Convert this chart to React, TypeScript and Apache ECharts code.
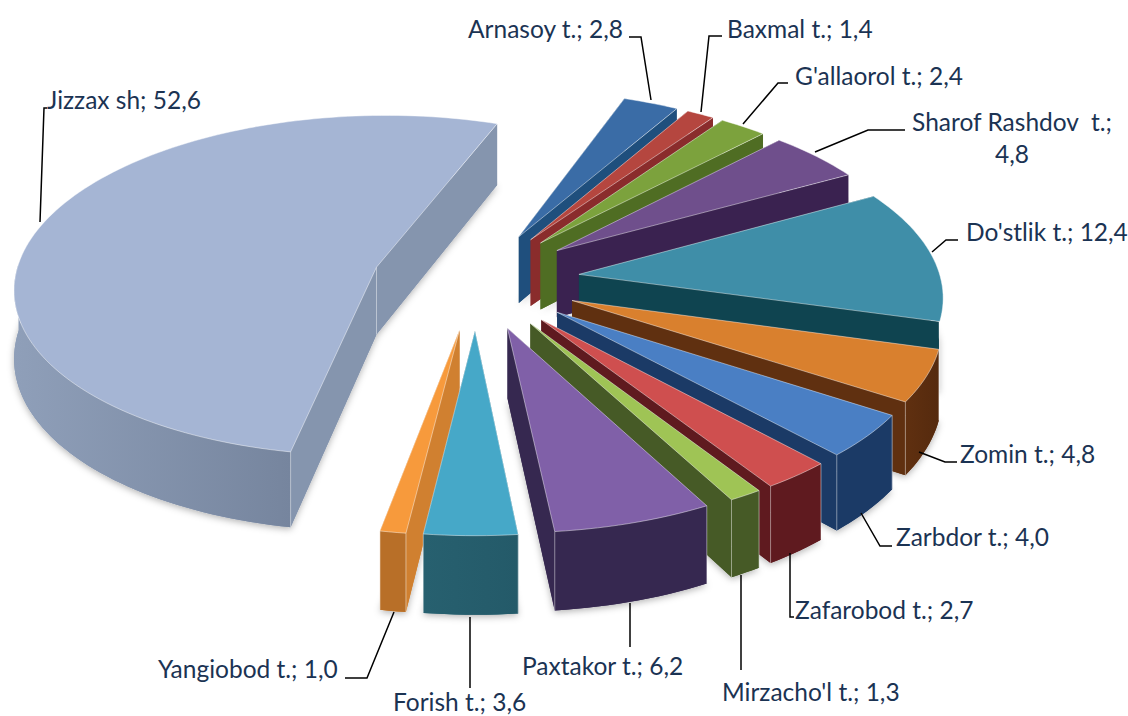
import React, { useEffect, useRef } from "react";
import * as echarts from "echarts";

const names = ["Arnasoy t.", "Baxmal t.", "G'allaorol t.", "Sharof Rashdov  t.", "Do'stlik t.", "Zomin t.", "Zarbdor t.", "Zafarobod t.", "Mirzacho'l t.", "Paxtakor t.", "Forish t.", "Yangiobod t.", "Jizzax sh"];
const values = [2.8, 1.4, 2.4, 4.8, 12.4, 4.8, 4.0, 2.7, 1.3, 6.2, 3.6, 1.0, 52.6];
const topColors = ["#3a6ca6", "#b5463f", "#7ca23d", "#6f4f8c", "#3f8ea8", "#d9802e", "#4a7fc4", "#cf4f4f", "#9fc455", "#8060a8", "#46a8c8", "#f79a3c", "#a5b5d4"];
const wallColors = ["#1f4f7d", "#8a2c2c", "#4f6d23", "#3a2250", "#0f4450", "#603010", "#1b3a66", "#5f1a1f", "#465a26", "#362850", "#27606f", "#d08030", "#8595ae"];
const rimColors = ["#1f4f7d", "#8a2c2c", "#4f6d23", "#3a2250", "#0f4450", "#603010", "#1b3a66", "#5f1a1f", "#465a26", "#362850", "#27606f", "#b86f28", "#8f9fb9"];
const rimDark = ["#1f4f7d", "#8a2c2c", "#4f6d23", "#3a2250", "#0f4450", "#552a0e", "#1b3a66", "#5f1a1f", "#465a26", "#362850", "#245a69", "#b86f28", "#76859e"];

// label layout: text anchor, leader polyline
const labelX = [468, 727, 795, 1012, 966, 960, 896, 795, 722, 522, 393, 158, 47];
const labelY = [28, 28, 75, 137, 231, 453, 536, 609, 691, 665, 701, 668, 99];
const labelAlign = ["left", "left", "left", "center", "left", "left", "left", "left", "left", "left", "left", "left", "left"];
const leaders: number[][][] = [
  [[629, 37], [641, 37], [651, 100]],
  [[722, 36], [709, 36], [701, 112]],
  [[788, 83], [778, 83], [743, 124]],
  [[905, 130], [868, 130], [815, 152]],
  [[958, 240], [946, 240], [932, 252]],
  [[957, 462], [945, 462], [919, 452]],
  [[892, 546], [880, 546], [861, 513]],
  [[790, 553], [790, 617], [794, 617]],
  [[741, 575], [741, 670]],
  [[630, 603], [630, 647]],
  [[470, 617], [470, 688]],
  [[394, 612], [367, 678], [345, 678]],
  [[40, 222], [44, 108], [47, 108]],
];

const START_ANGLE = 20;
const CX = 476, CY = 280, R = 362, EXPLODE = 104, TILT = 0.472, PERSP = 0.0003, DEPTH = 68;
const total = values.reduce((a, b) => a + b, 0);

const starts: number[] = [];
values.reduce((acc, v, i) => { starts[i] = acc; return acc + (v / total) * 360; }, START_ANGLE);
const ends = values.map((v, i) => starts[i] + (v / total) * 360);
const rad = (d: number) => (d * Math.PI) / 180;

const drawOrder = values.map((_, i) => i).sort((a, b) => Math.cos(rad((starts[b] + ends[b]) / 2)) - Math.cos(rad((starts[a] + ends[a]) / 2)));

function project(X: number, Y: number, z: number): number[] {
  const s = 1 / (1 + PERSP * Y);
  return [CX + X * s, CY - Y * TILT * s + z * s];
}

function renderItem(_params: any, api: any) {
  const a0 = api.value(0), a1 = api.value(1), idx = api.value(2);
  const mid = rad((a0 + a1) / 2);
  const ox = EXPLODE * Math.sin(mid), oy = EXPLODE * Math.cos(mid);
  const rimAt = (deg: number, z: number) => project(ox + R * Math.sin(rad(deg)), oy + R * Math.cos(rad(deg)), z);
  const steps = Math.max(2, Math.ceil((a1 - a0) / 1.5));
  const angleAt = (k: number) => a0 + ((a1 - a0) * k) / steps;
  const arc = (z: number) => {
    const pts: number[][] = [];
    for (let k = 0; k <= steps; k++) pts.push(rimAt(angleAt(k), z));
    return pts;
  };

  // the slice straddling the rightmost point must not poke past its clockwise neighbour
  let clampX = Infinity;
  if (a0 < 90 && a1 > 90 && idx + 1 < values.length) {
    const nextMid = rad((starts[idx + 1] + ends[idx + 1]) / 2);
    const nx = EXPLODE * Math.sin(nextMid), ny = EXPLODE * Math.cos(nextMid);
    clampX = project(nx + R * Math.sin(rad(starts[idx + 1])), ny + R * Math.cos(rad(starts[idx + 1])), 0)[0];
  }
  const clamp = (p: number[]) => [Math.min(p[0], clampX), p[1]];

  const apexTop = project(ox, oy, 0), apexBot = project(ox, oy, DEPTH);
  const topArc = arc(0), botArc = arc(DEPTH);
  const light = "rgba(255,255,255,0.45)";
  const children: any[] = [];

  children.push({
    type: "polygon",
    shape: { points: [apexBot, ...botArc].map(clamp) },
    style: { fill: wallColors[idx], shadowBlur: 7, shadowColor: "rgba(0,0,0,0.3)", shadowOffsetY: 2 },
  });

  const wallStart = [apexTop, topArc[0], botArc[0], apexBot].map(clamp);
  const wallEnd = [apexTop, topArc[steps], botArc[steps], apexBot].map(clamp);
  children.push({ type: "polygon", shape: { points: wallStart }, style: { fill: wallColors[idx] } });
  children.push({ type: "polygon", shape: { points: wallEnd }, style: { fill: wallColors[idx] } });
  if (a1 - a0 > 180) {
    children.push({ type: "line", shape: { x1: apexTop[0], y1: apexTop[1], x2: apexBot[0], y2: apexBot[1] }, style: { stroke: light, lineWidth: 1 } });
  }

  // outer wall: only the part of the rim that faces the viewer
  const frontTop: number[][] = [], frontBot: number[][] = [];
  for (let k = 0; k <= steps; k++) {
    const nd = ((angleAt(k) % 360) + 360) % 360;
    if (nd >= 88 && nd <= 272) { frontTop.push(topArc[k]); frontBot.push(botArc[k]); }
  }
  if (frontTop.length > 1) {
    const rimFill = new echarts.graphic.LinearGradient(0, 0, 1, 0, [
      { offset: 0, color: rimColors[idx] },
      { offset: 1, color: rimDark[idx] },
    ]);
    children.push({ type: "polygon", shape: { points: [...frontTop, ...frontBot.slice().reverse()].map(clamp) }, style: { fill: rimFill } });
  }

  [[a0, 0], [a1, steps]].forEach(([deg, k]) => {
    const nd = ((deg % 360) + 360) % 360;
    if (nd > 100 && nd < 262) {
      children.push({ type: "line", shape: { x1: topArc[k][0], y1: topArc[k][1], x2: botArc[k][0], y2: botArc[k][1] }, style: { stroke: light, lineWidth: 1 } });
    }
  });
  children.push({ type: "polygon", shape: { points: [apexTop, ...topArc] }, style: { fill: topColors[idx], stroke: light, lineWidth: 1 } });
  return { type: "group", children };
}

const labelText = (i: number) => {
  const v = values[i].toFixed(1).replace(".", ",");
  return i === 3 ? `${names[i]};\n${v}` : `${names[i]}; ${v}`;
};

export default function App() {
  const ref = useRef<HTMLDivElement>(null);
  useEffect(() => {
    const chart = echarts.init(ref.current!, undefined, { renderer: "svg" });
    const graphic: any[] = [];
    values.forEach((_, i) => {
      graphic.push({ type: "polyline", z: 5, shape: { points: leaders[i] }, style: { stroke: "#000", lineWidth: 1.5, fill: "none" } });
      graphic.push({
        type: "text", z: 6, x: labelX[i], y: labelY[i],
        style: { text: labelText(i), font: "24.5px Lato", fill: "#1b3353", textAlign: labelAlign[i], textVerticalAlign: "middle", lineHeight: 32 },
      });
    });
    chart.setOption({
      animation: false,
      backgroundColor: "#fff",
      series: [{
        type: "custom",
        coordinateSystem: "none",
        renderItem,
        silent: true,
        data: drawOrder.map((i) => [starts[i], ends[i], i]),
      }],
      graphic,
    });
    return () => chart.dispose();
  }, []);
  return <div ref={ref} style={{ position: "absolute", left: 0, top: 0, width: 1128, height: 716 }} />;
}
